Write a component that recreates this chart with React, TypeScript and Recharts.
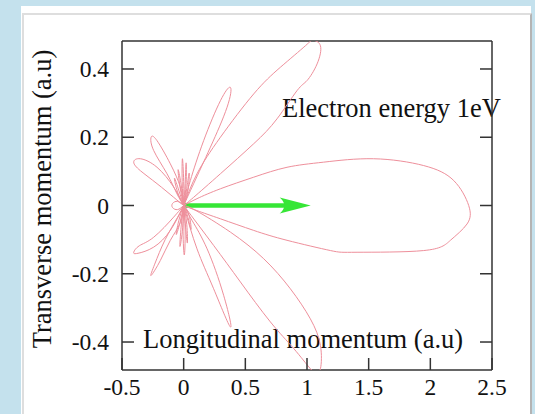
import React from 'react';
import { ScatterChart, Scatter, XAxis, YAxis, ReferenceLine } from 'recharts';

const xTicks = [-0.5, 0, 0.5, 1, 1.5, 2, 2.5];
const yTicks = [-0.4, -0.2, 0, 0.2, 0.4];
const xDomain = [-0.5, 2.5];
const yDomain = [-0.482, 0.482];

// lobe outlines: origin -> one edge -> tip -> other edge -> origin
const mainLobe = [
  [0, 0], [0.108, 0.02], [0.298, 0.049], [0.568, 0.083], [0.838, 0.112], [1.135, 0.127],
  [1.54, 0.137], [1.946, 0.117], [2.19, 0.073], [2.311, 0], [2.298, -0.054], [2.163, -0.102],
  [1.946, -0.132], [1.406, -0.137], [1.19, -0.132], [0.838, -0.102], [0.568, -0.073],
  [0.298, -0.039], [0.108, -0.015], [0, 0],
];
const upperBigLobe = [
  [0, 0], [0.108, 0.093], [0.298, 0.2], [0.568, 0.327], [0.784, 0.405], [0.987, 0.468],
  [1.05, 0.484], [1.109, 0.468], [1.082, 0.415], [1.0, 0.366], [0.92, 0.337], [0.757, 0.254],
  [0.568, 0.181], [0.298, 0.093], [0.081, 0.024], [0, 0],
];
const lowerBigLobe = [
  [0, 0], [0.243, -0.117], [0.46, -0.224], [0.703, -0.341], [0.892, -0.419], [1.027, -0.478],
  [1.075, -0.49], [1.109, -0.478], [1.109, -0.41], [1.027, -0.332], [0.865, -0.244],
  [0.649, -0.156], [0.379, -0.078], [0.1, -0.015], [0, 0],
];
const upperMidLobe = [
  [0, 0], [0.054, 0.073], [0.162, 0.19], [0.298, 0.307], [0.379, 0.346], [0.352, 0.288],
  [0.217, 0.171], [0.081, 0.064], [0, 0],
];
const lowerMidLobe = [
  [0, 0], [0.108, -0.127], [0.243, -0.244], [0.379, -0.356], [0.324, -0.263], [0.19, -0.127],
  [0.07, -0.045], [0, 0],
];
const upperTiltLobe = [
  [0, 0], [-0.054, 0.034], [-0.135, 0.093], [-0.243, 0.161], [-0.264, 0.2], [-0.216, 0.19],
  [-0.108, 0.122], [-0.027, 0.054], [0, 0],
];
const lowerTiltLobe = [
  [0, 0], [-0.027, -0.05], [-0.108, -0.102], [-0.189, -0.161], [-0.264, -0.205], [-0.235, -0.172],
  [-0.15, -0.1], [-0.05, -0.035], [0, 0],
];
const upperSideLobe = [
  [0, 0], [-0.081, 0.054], [-0.216, 0.112], [-0.351, 0.137], [-0.405, 0.127], [-0.351, 0.102],
  [-0.216, 0.064], [-0.081, 0.024], [0, 0],
];
const lowerSideLobe = [
  [0, 0], [-0.081, -0.034], [-0.243, -0.093], [-0.36, -0.118], [-0.405, -0.137], [-0.37, -0.14],
  [-0.243, -0.122], [-0.108, -0.073], [0, 0],
];
const backLobe = [[0, 0], [-0.05, 0.012], [-0.09, 0.006], [-0.09, -0.006], [-0.05, -0.012], [0, 0]];

// thin spikes around the origin
const spikes = [
  [[0, 0], [-0.012, 0.07], [-0.01, 0.137], [0, 0.07], [0, 0]],
  [[0, 0], [0.012, 0.065], [0.02, 0.125], [0.02, 0.065], [0, 0]],
  [[0, 0], [-0.03, 0.055], [-0.045, 0.105], [-0.02, 0.06], [0, 0]],
  [[0, 0], [-0.05, 0.04], [-0.075, 0.08], [-0.04, 0.045], [0, 0]],
  [[0, 0], [0.025, 0.05], [0.045, 0.095], [0.035, 0.045], [0, 0]],
  [[0, 0], [-0.005, -0.075], [0.005, -0.145], [0.012, -0.075], [0, 0]],
  [[0, 0], [-0.02, -0.06], [-0.03, -0.12], [-0.008, -0.065], [0, 0]],
  [[0, 0], [0.015, -0.06], [0.03, -0.11], [0.025, -0.055], [0, 0]],
  [[0, 0], [-0.04, -0.045], [-0.06, -0.085], [-0.03, -0.05], [0, 0]],
  [[0, 0], [0.035, -0.035], [0.06, -0.07], [0.045, -0.03], [0, 0]],
];

const arrowStart = { x: 0, y: 0 };
const arrowEnd = { x: 1.03, y: 0 };

const lobes = [
  mainLobe, upperBigLobe, lowerBigLobe, upperMidLobe, lowerMidLobe,
  upperTiltLobe, lowerTiltLobe, upperSideLobe, lowerSideLobe, backLobe, ...spikes,
];

const LOBE = '#ee8f9b';
const GREEN = '#36e636';
const AXIS = '#333';
const FONT = "'Liberation Serif', 'Times New Roman', Times, serif";
const TICK_LEN = 12;

const toPoints = (arr: number[][]) => arr.map(([x, y]) => ({ x, y }));
const NoDot = () => <g />;
const fmt = (v: number) => String(v);

// inward ticks, gnuplot style
const BottomTick = ({ x, y, payload }: any) => (
  <g>
    <line x1={x} y1={y} x2={x} y2={y - TICK_LEN} stroke={AXIS} strokeWidth={1.5} />
    <text x={x} y={y + 25} textAnchor="middle" fontFamily={FONT} fontSize={23.5} fill="#111">
      {fmt(payload.value)}
    </text>
  </g>
);
const LeftTick = ({ x, y, payload }: any) => (
  <g>
    <line x1={x} y1={y} x2={x + TICK_LEN} y2={y} stroke={AXIS} strokeWidth={1.5} />
    <text x={x - 13} y={y} dy="0.35em" textAnchor="end" fontFamily={FONT} fontSize={23.5} fill="#111">
      {fmt(payload.value)}
    </text>
  </g>
);
const TopTick = ({ x, y }: any) => (
  <line x1={x} y1={y} x2={x} y2={y + TICK_LEN} stroke={AXIS} strokeWidth={1.5} />
);
const RightTick = ({ x, y }: any) => (
  <line x1={x} y1={y} x2={x - TICK_LEN} y2={y} stroke={AXIS} strokeWidth={1.5} />
);

const Arrow = (props: any) => {
  const { x1, y1, x2, y2 } = props;
  return (
    <g>
      <line x1={x1} y1={y1} x2={x2 - 20} y2={y2} stroke={GREEN} strokeWidth={4.5} />
      <path
        d={`M${x2},${y2} L${x2 - 31},${y2 - 8} Q${x2 - 22},${y2} ${x2 - 31},${y2 + 8} Z`}
        fill={GREEN}
      />
    </g>
  );
};

const axisLine = { stroke: AXIS, strokeWidth: 1.5 };

export default function App() {
  return (
    <div style={{ position: 'relative', width: 535, height: 414, background: '#c4e1ed', overflow: 'hidden' }}>
      <style>{'body{margin:0}'}</style>
      <div style={{ position: 'absolute', left: 21, top: 6, width: 510, height: 408, background: '#fff' }} />
      <div
        style={{
          position: 'absolute', left: 22, top: 13, width: 506, height: 410,
          borderTop: '2px solid #dedede', borderLeft: '2px solid #dedede', borderRight: '2px solid #b4b4b4',
        }}
      />
      <div style={{ position: 'absolute', left: 0, top: 0 }}>
        <ScatterChart width={535} height={414} margin={{ top: 40, right: 42, bottom: 14, left: 62 }}>
          <XAxis
            xAxisId="b" type="number" dataKey="x" domain={xDomain} ticks={xTicks} allowDataOverflow
            height={30} tickSize={0} tickMargin={0} tickLine={false} axisLine={axisLine} tick={<BottomTick />}
          />
          <XAxis
            xAxisId="t" orientation="top" type="number" domain={xDomain} ticks={xTicks} allowDataOverflow
            height={1} tickSize={0} tickMargin={0} tickLine={false} axisLine={axisLine} tick={<TopTick />}
          />
          <YAxis
            yAxisId="l" type="number" dataKey="y" domain={yDomain} ticks={yTicks} allowDataOverflow
            width={60} tickSize={0} tickMargin={0} tickLine={false} axisLine={axisLine} tick={<LeftTick />}
          />
          <YAxis
            yAxisId="r" orientation="right" type="number" domain={yDomain} ticks={yTicks} allowDataOverflow
            width={1} tickSize={0} tickMargin={0} tickLine={false} axisLine={axisLine} tick={<RightTick />}
          />
          {lobes.map((lobe, i) => (
            <Scatter
              key={i}
              xAxisId="b"
              yAxisId="l"
              data={toPoints(lobe)}
              fill={LOBE}
              line={{ stroke: LOBE, strokeWidth: 1 }}
              lineType="joint"
              lineJointType="natural"
              shape={NoDot}
              isAnimationActive={false}
            />
          ))}
          <ReferenceLine xAxisId="b" yAxisId="l" segment={[arrowStart, arrowEnd]} shape={Arrow} />
          <text x={51} y={199} transform="rotate(-90 51 199)" textAnchor="middle" fontFamily={FONT} fontSize={26.5} fill="#111">
            Transverse momentum (a.u)
          </text>
          <text x={143} y={348} fontFamily={FONT} fontSize={26.5} fill="#111">
            Longitudinal momentum (a.u)
          </text>
          <text x={282} y={117} fontFamily={FONT} fontSize={26.5} fill="#111">
            Electron energy 1eV
          </text>
        </ScatterChart>
      </div>
    </div>
  );
}
